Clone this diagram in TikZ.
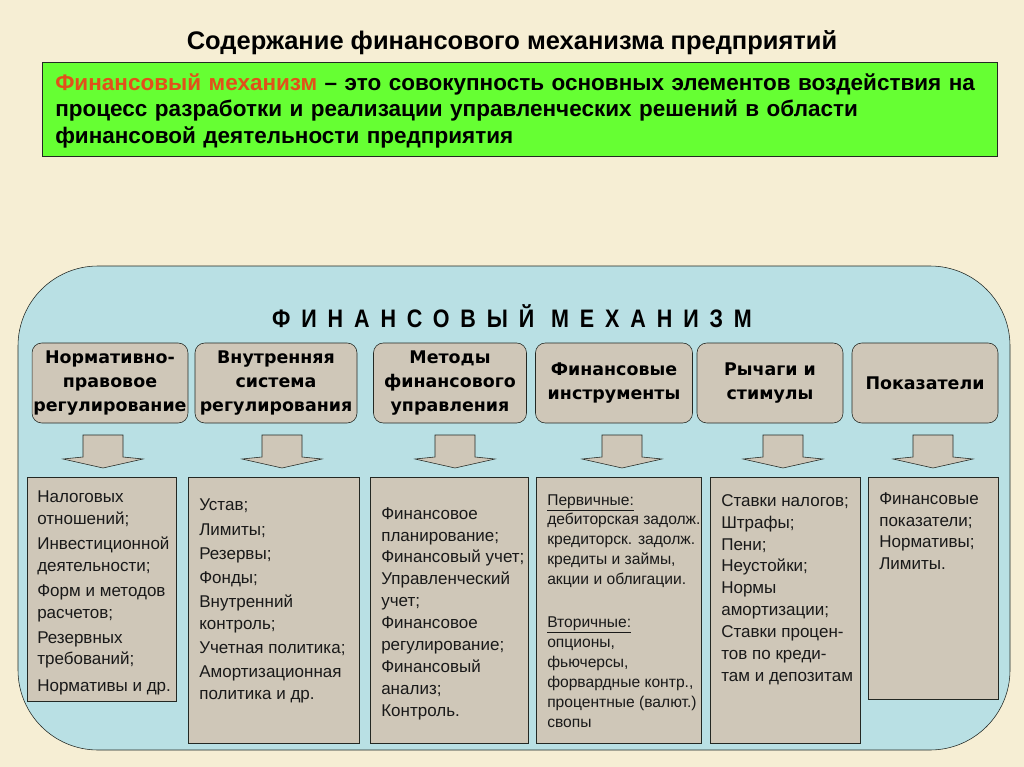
\documentclass[tikz,border=0pt]{standalone}
\usepackage{fontspec}
\setmainfont{Liberation Sans}
\newfontfamily\hdrfont{DejaVu Sans}
\newfontfamily\spacedfont[FakeStretch=0.85,LetterSpace=43]{Liberation Sans}
\usetikzlibrary{positioning,calc}

\definecolor{bgbeige}{RGB}{246,238,212}
\definecolor{mechblue}{RGB}{185,224,228}
\definecolor{boxtan}{RGB}{207,199,184}
\definecolor{defgreen}{RGB}{102,255,51}
\definecolor{termorange}{RGB}{226,80,26}
\definecolor{edgegray}{RGB}{35,40,35}

\begin{document}
\begin{tikzpicture}[x=0.025cm, y=-0.025cm,
    hdr/.style={draw=edgegray, fill=boxtan, rounded corners=7pt, minimum height=80*0.025cm, align=center, inner sep=1pt, font=\hdrfont\bfseries\fontsize{12.4}{17}\selectfont},
    body/.style={draw=edgegray, fill=boxtan, anchor=north west, inner sep=0pt},
    items/.style={anchor=north west, align=left, inner sep=0pt, text=black!90, font=\fontsize{12.1}{15.6}\selectfont},
    blockarr/.style={draw=edgegray, fill=boxtan, line join=miter}
]
% background
\fill[bgbeige] (0,0) rectangle (1024,767);
\useasboundingbox (0,0) rectangle (1024,767);

% title and definition
\node[font=\bfseries\fontsize{18.1}{22}\selectfont] (title) at (512,43) {Содержание финансового механизма предприятий};
\node[draw=edgegray, fill=defgreen, anchor=north west, minimum width=955*0.025cm, minimum height=94*0.025cm,
      text width=929*0.025cm, align=left, inner xsep=13*0.025cm,
      font=\bfseries\fontsize{16}{19}\selectfont] (defn) at (42,62)
  {\rule{0pt}{14pt}\textcolor{termorange}{Финансовый механизм} – это совокупность основных элементов воздействия на\\процесс разработки и реализации управленческих решений в области\\финансовой деятельности предприятия};

% panel
\node[draw=edgegray, fill=mechblue, rounded corners=2cm, minimum width=992*0.025cm, minimum height=484*0.025cm] (mech) at (514,508) {};
\node[font=\spacedfont\bfseries\fontsize{18}{22}\selectfont] (mechtitle) at (512,316) {ФИНАНСОВЫЙ МЕХАНИЗМ};

% headers
\node[hdr, minimum width=155*0.025cm] (h1) at (110,383) {Нормативно-\\правовое\\регулирование};
\node[hdr, minimum width=162*0.025cm] (h2) at (276,383) {Внутренняя\\система\\регулирования};
\node[hdr, minimum width=153*0.025cm] (h3) at (450,383) {Методы\\финансового\\управления};
\node[hdr, minimum width=157*0.025cm] (h4) at (614,383) {Финансовые\\инструменты};
\node[hdr, minimum width=146*0.025cm] (h5) at (770,383) {Рычаги и\\стимулы};
\node[hdr, minimum width=146*0.025cm] (h6) at (925,383) {Показатели};

% block arrows
\foreach \ax in {103,282,455,622,783,933}
  \draw[blockarr] (\ax-20,435) -- (\ax-20,457) -- (\ax-40,459) -- (\ax,468) -- (\ax+40,459) -- (\ax+20,457) -- (\ax+20,435) -- cycle;

% lower boxes
\node[body, minimum width=149*0.025cm, minimum height=224*0.025cm] (b1) at (27,477) {};
\node[body, minimum width=171*0.025cm, minimum height=266*0.025cm] (b2) at (188,477) {};
\node[body, minimum width=158*0.025cm, minimum height=266*0.025cm] (b3) at (370,477) {};
\node[body, minimum width=165*0.025cm, minimum height=266*0.025cm] (b4) at (536,477) {};
\node[body, minimum width=150*0.025cm, minimum height=266*0.025cm] (b5) at (710,477) {};
\node[body, minimum width=130*0.025cm, minimum height=222*0.025cm] (b6) at (868,477) {};

\node[items] (t1) at (37,491) {Налоговых\\отношений;\\[2pt]Инвестиционной\\деятельности;\\[2pt]Форм и методов\\расчетов;\\[2pt]Резервных\\требований;\\[3pt]Нормативы и др.};
\node[items] (t2) at (199,499) {Устав;\\[1.5pt]Лимиты;\\[1.5pt]Резервы;\\[1.5pt]Фонды;\\[1.5pt]Внутренний\\контроль;\\[1.5pt]Учетная политика;\\[1.5pt]Амортизационная\\политика и др.};
\node[items] (t3) at (381,507) {Финансовое\\планирование;\\Финансовый учет;\\Управленческий\\учет;\\Финансовое\\регулирование;\\Финансовый\\анализ;\\Контроль.};
\node[items, font=\fontsize{11.1}{14.2}\selectfont] (t4) at (547,494) {\underline{Первичные:}\\дебиторская задолж.\\кредиторск. задолж.\\кредиты и займы,\\акции и облигации.\\[16pt]\underline{Вторичные:}\\опционы,\\фьючерсы,\\форвардные контр.,\\процентные (валют.)\\свопы};
\node[items] (t5) at (721,494) {Ставки налогов;\\Штрафы;\\Пени;\\Неустойки;\\Нормы\\амортизации;\\Ставки процен-\\тов по креди-\\там и депозитам};
\node[items] (t6) at (879,492) {Финансовые\\показатели;\\Нормативы;\\Лимиты.};
\end{tikzpicture}
\end{document}
